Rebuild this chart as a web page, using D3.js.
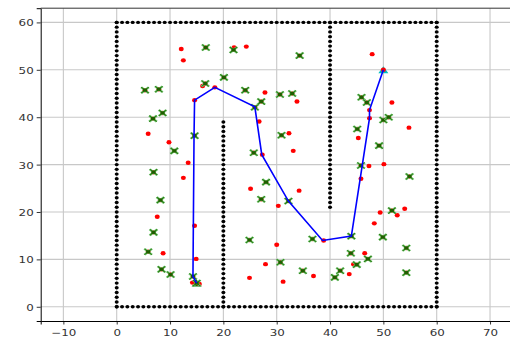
<!DOCTYPE html>
<html>
<head>
<meta charset="utf-8">
<script src="https://cdn.jsdelivr.net/npm/d3@7"></script>
<style>
  body { margin: 0; background: #fff; }
  svg { display: block; font-family: "DejaVu Sans", sans-serif; }
</style>
</head>
<body>
<div id="chart"></div>
<script>
// obstacle walls, each [x0, y0, x1, y1], one point per unit
const walls = [
    [0, 0, 60, 0],
    [60, 0, 60, 60],
    [0, 60, 60, 60],
    [0, 0, 0, 60],
    [20, 0, 20, 39],
    [40, 21, 40, 60]
];

// sample points (red dots)
const samples = [
    [5.9, 36.5], [9.8, 34.7], [7.6, 19.0], [8.7, 11.3], [13.4, 30.4], [12.5, 27.2],
    [14.6, 17.1], [14.9, 10.1], [14.2, 5.1], [15.5, 4.8],
    [12.1, 54.4], [12.5, 52.0], [22.0, 54.7], [24.3, 54.9], [16.1, 46.6], [27.8, 45.2],
    [33.8, 43.3], [14.6, 43.6], [18.4, 46.3],
    [32.3, 36.6], [33.1, 32.9], [27.3, 32.1], [26.7, 39.1], [25.1, 24.9], [34.2, 24.5], [30.3, 21.3],
    [47.9, 53.3], [50, 50], [51.6, 43.1], [47.4, 41.5], [47.4, 39.8],
    [54.8, 37.8], [45.3, 35.6], [47.3, 29.7], [50.1, 30.1], [45.8, 27.0],
    [49.4, 19.9], [54.0, 20.7], [52.6, 19.3], [48.3, 17.6], [46.5, 11.3], [44.4, 9.0], [43.6, 6.9],
    [24.9, 6.1], [27.9, 9.0], [30.0, 13.1], [31.2, 5.3], [36.9, 6.5], [38.8, 14.0]
];

// visited nodes (green x)
const visited = [
    [5.3, 45.7], [7.9, 45.9], [8.6, 40.9], [6.8, 39.7], [6.9, 28.4], [8.2, 22.5],
    [6.9, 15.7], [5.9, 11.6], [8.4, 7.9], [10.1, 6.8], [10.8, 32.9], [14.6, 36.1],
    [14.3, 6.4], [15.0, 5.0],
    [16.7, 54.7], [21.9, 54.2], [34.3, 53.0], [16.6, 47.1], [20.1, 48.4], [24.1, 45.7],
    [30.6, 44.8], [32.9, 45.0], [27.1, 43.3], [25.9, 42.1],
    [30.9, 36.2], [25.7, 32.5], [28.0, 26.3], [27.1, 22.7], [32.2, 22.3],
    [45.9, 44.2], [46.9, 43.1], [50.0, 39.4], [51.0, 40.0], [45.1, 37.5], [49.2, 34.0],
    [45.8, 29.8], [54.9, 27.5], [51.6, 20.3],
    [49.9, 14.7], [54.3, 12.4], [43.9, 11.3], [47.1, 10.1], [45.0, 8.9], [54.3, 7.2],
    [41.9, 7.6], [40.9, 6.2], [44.0, 14.9],
    [24.9, 14.1], [30.7, 9.4], [34.9, 7.6], [36.7, 14.3]
];

// final path
const path = [
    [15, 5], [14.3, 6.4], [14.5, 36.1], [14.6, 43.6], [18.4, 46.3], [25.9, 42.2],
    [27.2, 32.1], [32.2, 22.3], [38.6, 14.0], [44.0, 14.9], [47.4, 39.8], [47.4, 41.5], [50, 50]
];

const start = [15, 5];
const goal = [50, 50];

const xTicks = [-10, 0, 10, 20, 30, 40, 50, 60, 70];
const yTicks = [0, 10, 20, 30, 40, 50, 60];

const width = 510;
const height = 341;
const margin = {top: 8.2, right: -2.7, bottom: 20, left: 40.7};

// picture is stretched sideways, so text and marks are a bit wider than tall
const stretch = 1.25;

const svg = d3.select("#chart").append("svg")
    .attr("width", width)
    .attr("height", height);

const x = d3.scaleLinear()
    .domain([-14.25, 74.25])
    .range([margin.left, width - margin.right]);

const y = d3.scaleLinear()
    .domain([-3, 63])
    .range([height - margin.bottom, margin.top]);

// grid
svg.append("g")
    .selectAll("line")
    .data(xTicks)
    .enter()
    .append("line")
    .attr("x1", d => x(d)).attr("x2", d => x(d))
    .attr("y1", y(-3)).attr("y2", y(63))
    .attr("stroke", "#c8c8c8")
    .attr("stroke-width", 1.1);

svg.append("g")
    .selectAll("line")
    .data(yTicks)
    .enter()
    .append("line")
    .attr("x1", x(-14.25)).attr("x2", x(74.25))
    .attr("y1", d => y(d)).attr("y2", d => y(d))
    .attr("stroke", "#c8c8c8")
    .attr("stroke-width", 1.1);

// axes
const xAxis = svg.append("g")
    .attr("transform", `translate(0, ${y(-3)})`)
    .call(d3.axisBottom(x).tickValues(xTicks).tickSize(3.5).tickPadding(3)
        .tickFormat(d => d < 0 ? "\u2212" + Math.abs(d) : d));

const yAxis = svg.append("g")
    .attr("transform", `translate(${x(-14.25)}, 0)`)
    .call(d3.axisLeft(y).tickValues(yTicks).tickSize(4).tickPadding(3));

[xAxis, yAxis].forEach(a => {
    a.selectAll("text")
        .style("font-family", "'DejaVu Sans', sans-serif")
        .style("font-size", "9.5px")
        .attr("fill", "#333");
    a.select(".domain").attr("stroke", "#000").attr("stroke-width", 1);
    a.selectAll(".tick line").attr("stroke", "#000").attr("stroke-width", 0.8);
});

// widen the tick labels around their anchor
xAxis.selectAll(".tick text")
    .attr("y", null).attr("dy", null)
    .attr("transform", `translate(0, 14.5) scale(${stretch}, 1)`);
yAxis.selectAll(".tick text")
    .attr("x", null).attr("dy", null)
    .attr("transform", `translate(-7, 3.4) scale(${stretch}, 1)`);

// top spine
svg.append("line")
    .attr("x1", x(-14.25)).attr("x2", x(74.25))
    .attr("y1", y(63)).attr("y2", y(63))
    .attr("stroke", "#333")
    .attr("stroke-width", 1);

// start / goal triangles
const tri = d3.symbol().type(d3.symbolTriangle).size(28);
svg.append("path")
    .attr("d", tri)
    .attr("transform", `translate(${x(goal[0])}, ${y(goal[1]) + 1}) scale(${stretch}, 1)`)
    .attr("fill", "#00bfbf");
svg.append("path")
    .attr("d", tri)
    .attr("transform", `translate(${x(start[0])}, ${y(start[1]) + 1}) scale(${stretch}, 1)`)
    .attr("fill", "#008000");

// walls
const wallPts = [];
walls.forEach(w => {
    if (w[0] === w[2]) {
        d3.range(w[1], w[3] + 1).forEach(v => wallPts.push([w[0], v]));
    } else {
        d3.range(w[0], w[2] + 1).forEach(v => wallPts.push([v, w[1]]));
    }
});

svg.append("g")
    .selectAll("ellipse")
    .data(wallPts)
    .enter()
    .append("ellipse")
    .attr("cx", d => x(d[0]))
    .attr("cy", d => y(d[1]))
    .attr("rx", 2.0)
    .attr("ry", 1.7)
    .attr("fill", "#000");

// red dots under every node
svg.append("g")
    .selectAll("ellipse")
    .data(samples.concat(visited))
    .enter()
    .append("ellipse")
    .attr("cx", d => x(d[0]))
    .attr("cy", d => y(d[1]))
    .attr("rx", 2.5)
    .attr("ry", 2.2)
    .attr("fill", "#ff0000");

// green x markers
const xs = 3.0;
const crossPath = `M${-xs},${-xs}L${xs},${xs}M${-xs},${xs}L${xs},${-xs}`;
const marks = svg.append("g")
    .selectAll("g")
    .data(visited)
    .enter()
    .append("g")
    .attr("transform", d => `translate(${x(d[0])}, ${y(d[1])}) scale(${stretch}, 1)`);

marks.append("path")
    .attr("d", crossPath)
    .attr("stroke", "#7fcf7f")
    .attr("stroke-width", 2.2)
    .attr("fill", "none");

marks.append("path")
    .attr("d", crossPath)
    .attr("stroke", "#2a7a12")
    .attr("stroke-width", 0.9)
    .attr("fill", "none");

marks.append("rect")
    .attr("x", -1.6).attr("y", -1.6)
    .attr("width", 3.2).attr("height", 3.2)
    .attr("fill", "#1f5e00");

// path
svg.append("path")
    .datum(path)
    .attr("d", d3.line().x(d => x(d[0])).y(d => y(d[1])))
    .attr("fill", "none")
    .attr("stroke", "#0000ff")
    .attr("stroke-width", 1.6);
</script>
</body>
</html>
